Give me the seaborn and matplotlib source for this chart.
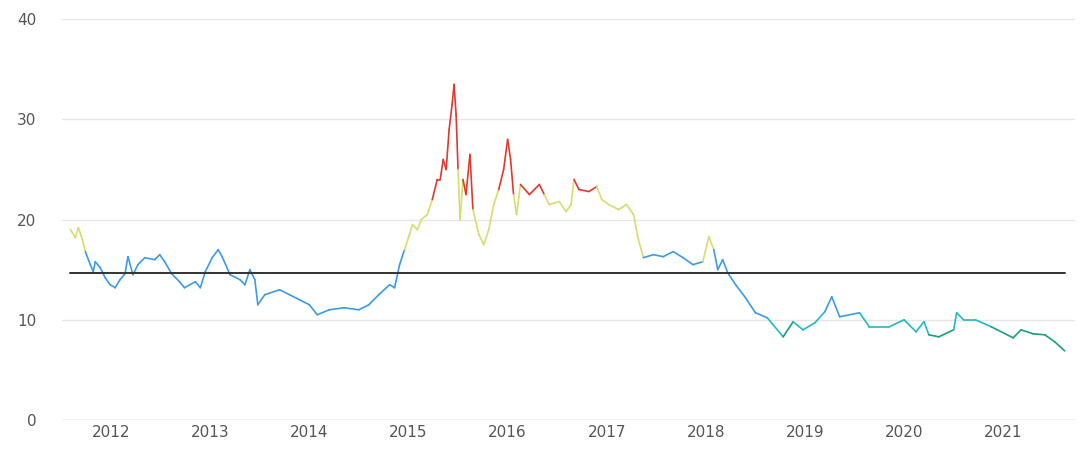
import matplotlib
matplotlib.use("Agg")
import matplotlib.pyplot as plt
import seaborn as sns
import numpy as np

# (decimal year, value) readings
readings = [
    (2011.59,19.0),(2011.64,18.2),(2011.67,19.2),(2011.71,18.0),(2011.74,16.8),(2011.79,15.5),
    (2011.82,14.8),(2011.84,15.8),(2011.89,15.2),(2011.94,14.2),(2011.99,13.5),(2012.04,13.2),
    (2012.09,14.0),(2012.14,14.6),(2012.17,16.3),(2012.22,14.5),(2012.27,15.5),(2012.34,16.2),
    (2012.44,16.0),(2012.49,16.5),(2012.54,15.8),(2012.61,14.6),(2012.69,13.8),(2012.74,13.2),
    (2012.85,13.8),(2012.90,13.2),(2012.95,14.8),(2013.02,16.2),(2013.08,17.0),(2013.12,16.3),
    (2013.20,14.5),(2013.30,14.0),(2013.35,13.5),(2013.40,15.0),(2013.45,14.0),(2013.48,11.5),
    (2013.55,12.5),(2013.70,13.0),(2013.80,12.5),(2013.90,12.0),(2014.00,11.5),(2014.08,10.5),
    (2014.20,11.0),(2014.35,11.2),(2014.50,11.0),(2014.60,11.5),(2014.70,12.5),(2014.81,13.5),
    (2014.86,13.2),(2014.91,15.5),(2014.96,17.0),(2015.01,18.5),(2015.04,19.5),(2015.09,19.0),
    (2015.13,20.0),(2015.19,20.5),(2015.24,22.0),(2015.29,24.0),(2015.32,24.0),(2015.35,26.0),
    (2015.38,25.0),(2015.41,29.0),(2015.44,31.5),(2015.46,33.5),(2015.48,30.5),(2015.50,25.0),
    (2015.52,20.0),(2015.55,24.0),(2015.58,22.5),(2015.62,26.5),(2015.65,21.0),(2015.71,18.5),
    (2015.76,17.5),(2015.81,19.0),(2015.86,21.5),(2015.91,23.0),(2015.96,25.0),(2016.00,28.0),
    (2016.03,26.0),(2016.06,22.5),(2016.09,20.5),(2016.13,23.5),(2016.22,22.5),(2016.32,23.5),
    (2016.37,22.5),(2016.42,21.5),(2016.52,21.8),(2016.59,20.8),(2016.64,21.5),(2016.67,24.0),
    (2016.72,23.0),(2016.82,22.8),(2016.90,23.3),(2016.95,22.0),(2017.02,21.5),(2017.12,21.0),
    (2017.20,21.5),(2017.27,20.5),(2017.32,18.0),(2017.37,16.2),(2017.47,16.5),(2017.57,16.3),
    (2017.67,16.8),(2017.77,16.2),(2017.87,15.5),(2017.97,15.8),(2018.03,18.3),(2018.08,17.0),
    (2018.12,15.0),(2018.17,16.0),(2018.22,14.7),(2018.30,13.5),(2018.40,12.2),(2018.50,10.7),
    (2018.62,10.2),(2018.78,8.3),(2018.88,9.8),(2018.98,9.0),(2019.10,9.7),(2019.20,10.8),
    (2019.27,12.3),(2019.35,10.3),(2019.55,10.7),(2019.65,9.3),(2019.85,9.3),(2020.00,10.0),
    (2020.12,8.8),(2020.20,9.8),(2020.25,8.5),(2020.35,8.3),(2020.50,9.0),(2020.53,10.7),
    (2020.60,10.0),(2020.72,10.0),(2020.88,9.3),(2021.10,8.2),(2021.18,9.0),(2021.30,8.6),
    (2021.42,8.5),(2021.52,7.8),(2021.62,6.9),
]
years = [r[0] for r in readings]
values = [r[1] for r in readings]
mean_value = 14.65
yticks = [0, 10, 20, 30, 40]
xticks = list(range(2012, 2022))

def cls(v):
    if v > 22.8: return "#e0392e"
    if v > 16.8: return "#d8dc6c"
    if v > 10.4: return "#3d9be6"
    if v > 9.05: return "#22b8c4"
    return "#16a07c"

sns.set_theme(style="white")
fig, ax = plt.subplots(figsize=(10.8, 4.57), dpi=100)
fig.subplots_adjust(left=0.057, right=0.995, top=0.958, bottom=0.081)

x = np.array(years); y = np.array(values)
for i in range(len(x) - 1):
    c = cls((y[i] + y[i+1]) / 2)
    ax.plot(x[i:i+2], y[i:i+2], color=c, lw=1.2, solid_capstyle="round")

ax.plot([x[0], x[-1]], [mean_value, mean_value], color="#333333", lw=1.4)
ax.set_ylim(0, 40); ax.set_xlim(2011.5, 2021.72)
ax.set_yticks(yticks); ax.set_xticks(xticks)
for t in yticks:
    ax.axhline(t, color="#e6e6e6", lw=1, zorder=0)
for s in ax.spines.values():
    s.set_visible(False)
ax.axhline(0, color="#cccccc", lw=1, zorder=0)
ax.tick_params(axis="both", length=0, labelsize=11, labelcolor="#555555")
ax.tick_params(axis="y", pad=18)
fig.savefig("out.png")
